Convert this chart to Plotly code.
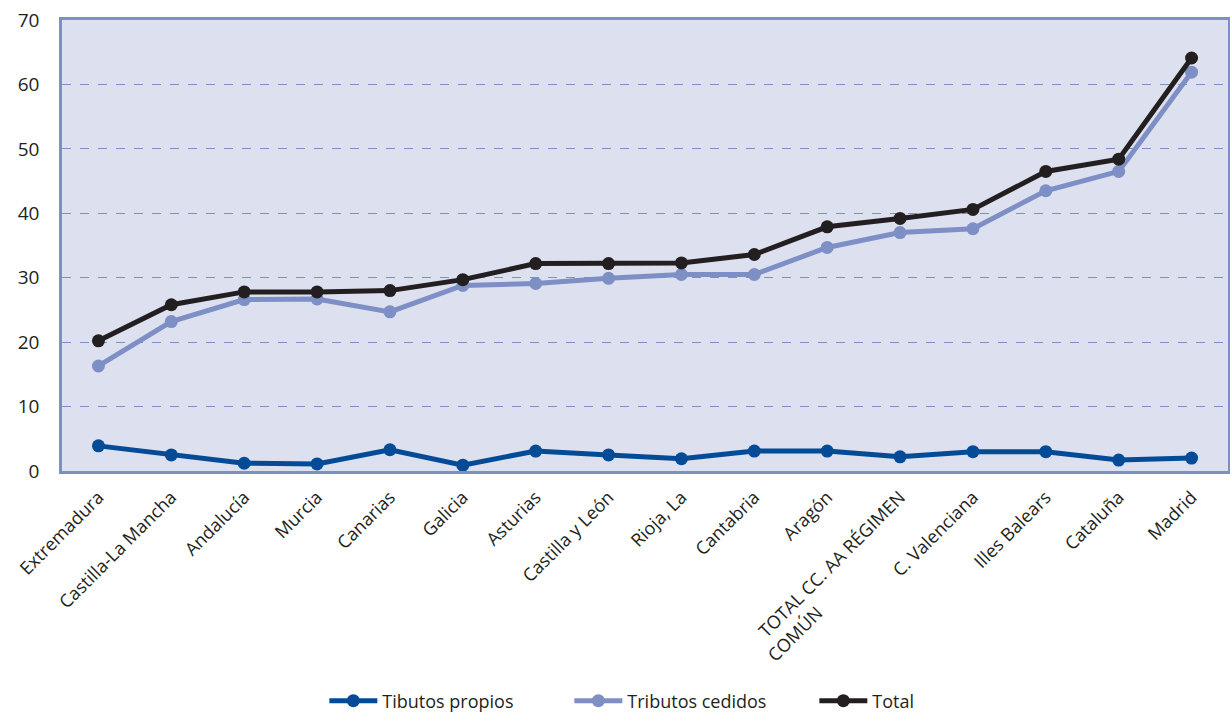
import plotly.graph_objects as go

# the second line of the long label is padded so both lines start together
regiones = [
    "Extremadura", "Castilla-La Mancha", "Andalucía", "Murcia", "Canarias",
    "Galicia", "Asturias", "Castilla y León", "Rioja, La", "Cantabria",
    "Aragón", "TOTAL CC. AA RÉGIMEN<br>COMÚN" + "\u00a0" * 30, "C. Valenciana", "Illes Balears",
    "Cataluña", "Madrid",
]
tributos_propios = [3.9, 2.5, 1.2, 1.1, 3.3, 0.9, 3.1, 2.5, 1.9, 3.1, 3.1, 2.2, 3.0, 3.0, 1.7, 2.0]
tributos_cedidos = [16.3, 23.2, 26.6, 26.7, 24.7, 28.8, 29.1, 29.9, 30.5, 30.5, 34.7, 37.0, 37.6, 43.5, 46.5, 61.9]
total = [20.2, 25.8, 27.8, 27.8, 28.0, 29.7, 32.2, 32.2, 32.3, 33.6, 37.9, 39.2, 40.6, 46.5, 48.4, 64.1]

series = [
    ("Tibutos propios", tributos_propios, "#034b97"),
    ("Tributos cedidos", tributos_cedidos, "#7d8fc4"),
    ("Total", total, "#231f20"),
]

fig = go.Figure()
for nombre, valores, color in series:
    fig.add_trace(go.Scatter(
        x=regiones, y=valores, name=nombre, mode="lines+markers",
        line=dict(color=color, width=5),
        marker=dict(color=color, size=13),
    ))

fig.update_layout(
    width=1230, height=713,
    margin=dict(l=62, r=2, t=20, b=242, autoexpand=False),
    paper_bgcolor="white",
    plot_bgcolor="#dde0ef",
    font=dict(family="Open Sans, Liberation Sans, sans-serif", color="#231f20", size=18),
    showlegend=True,
    legend=dict(orientation="h", x=0.225, xanchor="left", y=-0.51, yanchor="middle",
                font=dict(size=18), itemwidth=48,
                entrywidth=182, entrywidthmode="pixels"),
)
fig.update_xaxes(
    type="category", range=[-0.5, len(regiones) - 0.5],
    tickangle=-45, showgrid=False, automargin=False,
    showline=True, mirror=True, linecolor="#7d8fc4", linewidth=2.5,
    ticks="", tickfont=dict(size=18), ticklabelstandoff=6,
)
fig.update_yaxes(
    range=[0, 70], dtick=10, showgrid=True, gridcolor="#7d8fc4", gridwidth=1,
    griddash="dash", zeroline=False, automargin=False,
    showline=True, mirror=True, linecolor="#7d8fc4", linewidth=2.5,
    ticks="", ticklabelstandoff=16, tickfont=dict(size=19),
)

fig.write_html("out.html")
